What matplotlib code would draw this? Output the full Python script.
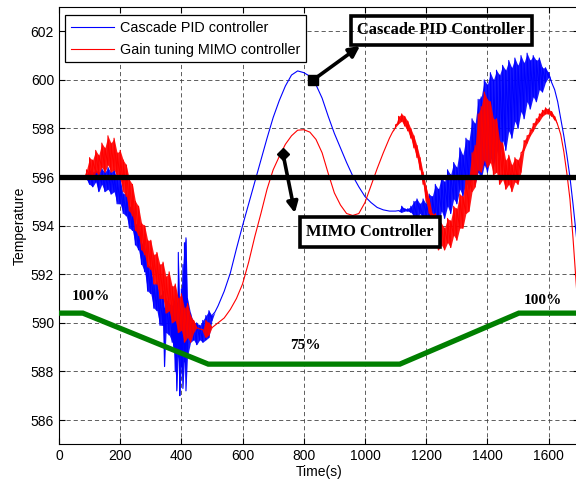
import numpy as np
import matplotlib
matplotlib.use("Agg")
import matplotlib.pyplot as plt

plt.rcParams['font.family'] = ['Liberation Sans', 'DejaVu Sans']

# ── Data ────────────────────────────────────────────
# smooth stretches: one value per time; noisy stretches: low/high of the band
pid_smooth_t = [0, 40, 80,
                510, 520, 540, 560, 580, 600, 620, 640, 660, 680, 700, 720, 740, 760, 780,
                800, 820, 840, 860, 880, 900, 920, 940, 960, 980, 1000, 1020, 1040, 1060,
                1080, 1100, 1110,
                1610, 1620, 1630, 1640, 1650, 1660, 1670, 1680, 1690, 1700]
pid_smooth_v = [596.0, 596.0, 596.02,
                590.45, 590.7, 591.3, 592.05, 593.05, 594.0, 594.9, 595.8, 596.7, 597.6, 598.45,
                599.15, 599.75, 600.2, 600.37,
                600.3, 600.15, 599.8, 599.25, 598.5, 597.8, 597.2, 596.6, 596.05, 595.6, 595.2,
                594.95, 594.75, 594.65,
                594.6, 594.6, 594.62,
                599.9, 599.6, 599.1, 598.4, 597.7, 596.9, 596.0, 594.9, 593.7, 592.5]

pid_band_t = [90, 100, 110, 120, 130, 140, 150, 160, 170, 180, 190, 200, 210, 220, 230, 240,
              250, 260, 270, 280, 290, 300, 310, 320, 330, 340, 345, 350, 360, 370, 375, 380,
              385, 390, 395, 400, 405, 410, 415, 420, 430, 440, 450, 460, 470, 480, 490, 500,
              1120, 1130, 1140, 1150, 1160, 1170, 1180, 1190, 1200,
              1210, 1220, 1230, 1240, 1250, 1260, 1270, 1280, 1290, 1300, 1310, 1320, 1330,
              1340, 1350, 1360, 1370, 1380, 1390, 1400, 1410, 1420, 1430, 1440, 1450, 1460,
              1470, 1480, 1490, 1500, 1510, 1520, 1530, 1540, 1550, 1560, 1570, 1580, 1590, 1600]
pid_band_lo = [595.9, 595.7, 595.6, 595.8, 595.4, 595.7, 595.4, 595.5, 595.3, 595.4, 594.9, 594.9,
               594.5, 594.4, 593.9, 593.8,
               593.2, 593.0, 592.4, 592.1, 591.3, 591.2, 590.6, 590.5, 589.9, 589.9, 588.2, 589.6,
               589.5, 589.2, 589.0, 588.0,
               587.2, 588.6, 587.0, 588.2, 587.3, 588.4, 587.2, 588.6, 589.2, 589.3, 589.1, 589.3,
               589.2, 589.3, 589.4, 590.1,
               594.55, 594.6, 594.6, 594.55, 594.4, 594.3, 594.5, 594.3, 594.4,
               594.4, 594.1, 594.3, 594.0, 594.6, 594.3, 594.8, 594.5, 595.1, 594.9, 595.5, 595.2,
               595.8, 595.5, 596.0, 595.7, 596.2, 595.9, 596.5, 596.2, 596.8, 596.4, 597.1, 596.7,
               597.5, 597.1, 597.9, 597.6, 598.3, 598.0, 598.7, 598.4, 599.1, 598.8, 599.3, 599.1,
               599.6, 599.5, 599.9, 600.1]
pid_band_hi = [596.1, 596.3, 596.2, 596.3, 596.2, 596.35, 596.2, 596.4, 596.2, 596.3, 595.9, 595.9,
               595.3, 595.4, 594.8, 594.8,
               594.1, 594.0, 593.3, 593.1, 592.4, 592.3, 591.6, 591.7, 591.1, 591.3, 590.6, 591.0,
               590.8, 590.7, 590.9, 591.5,
               590.8, 592.9, 590.6, 591.4, 592.4, 593.3, 593.5, 591.0, 590.4, 590.0, 590.0, 589.9,
               590.1, 590.3, 590.5, 590.3,
               594.8, 594.7, 594.7, 594.8, 595.0, 595.1, 594.9, 595.1, 594.9,
               595.3, 595.2, 595.7, 595.5, 596.0, 595.8, 596.3, 596.1, 596.6, 596.4, 597.2, 596.9,
               597.6, 597.5, 598.4, 598.2, 599.2, 599.3, 600.0, 599.8, 600.3, 600.0, 600.4, 600.2,
               600.6, 600.4, 600.8, 600.5, 600.9, 600.6, 601.0, 600.7, 601.1, 600.8, 601.0, 600.8,
               600.9, 600.5, 600.5, 600.3]

mimo_smooth_t = [80, 450, 460, 470, 500, 510, 520, 540, 560, 580, 600, 620, 640, 660, 680, 700,
                 720, 740, 760, 780, 800, 820, 840, 860, 880, 900, 920, 940, 960, 980, 1000,
                 1020, 1040, 1060, 1080, 1090,
                 1630, 1640, 1650, 1660, 1670, 1680, 1690, 1700]
mimo_smooth_v = [596.0, 589.8, 589.75, 589.72, 589.8, 589.9, 590.0, 590.2, 590.55, 591.0, 591.6,
                 592.5, 593.55, 594.5, 595.5, 596.3,
                 596.85, 597.35, 597.7, 597.93, 597.95, 597.85, 597.55, 597.0, 596.15, 595.35,
                 594.85, 594.5, 594.42, 594.5, 594.95,
                 595.65, 596.35, 597.0, 597.6, 597.85,
                 598.15, 597.75, 597.05, 596.15, 595.1, 593.5, 591.7, 589.9]

mimo_band_t = [90, 100, 110, 120, 130, 140, 150, 160, 170, 180, 190, 200, 210, 220, 230, 240,
               250, 260, 270, 280, 290, 300, 310, 320, 330, 340, 350, 360, 370, 380, 390, 400,
               410, 420, 430, 440, 480, 490,
               1100, 1110, 1120, 1130, 1140, 1150, 1160, 1170, 1180, 1190, 1200,
               1210, 1220, 1230, 1240, 1250, 1260, 1270, 1280, 1290, 1300, 1310, 1320, 1330,
               1340, 1350, 1360, 1370, 1380, 1390, 1400, 1410, 1420, 1430, 1440, 1450, 1460,
               1470, 1480, 1490, 1500, 1510, 1520, 1530, 1540, 1550, 1560, 1570, 1580, 1590,
               1600, 1610, 1620]
mimo_band_lo = [595.9, 596.1, 595.9, 596.2, 596.1, 596.4, 596.2, 596.5, 596.2, 596.3, 596.0, 595.9,
                595.4, 595.2, 594.6, 594.4,
                593.8, 593.6, 593.0, 592.8, 592.3, 592.2, 591.6, 591.6, 591.0, 591.0, 590.4, 590.5,
                590.0, 590.1, 589.6, 589.7,
                589.2, 589.4, 589.2, 589.6, 589.4, 589.5,
                598.05, 598.2, 598.3, 598.1, 597.9, 597.6, 597.2, 596.8, 596.3, 595.7, 595.0,
                594.5, 593.7, 593.5, 593.0, 593.2, 593.0, 593.3, 593.1, 593.6, 593.4, 593.9, 593.9,
                594.5, 594.6, 595.4, 595.6, 596.3, 596.2, 596.7, 596.4, 596.6, 596.1, 596.2, 595.7,
                595.9, 595.5, 595.7, 595.4, 595.8, 595.7, 596.2, 597.1, 597.4, 597.7, 597.9,
                598.15, 598.3, 598.5, 598.6, 598.6, 598.5, 598.35]
mimo_band_hi = [596.3, 596.8, 596.7, 597.1, 596.9, 597.4, 597.2, 597.7, 597.4, 597.6, 597.0, 597.1,
                596.7, 596.5, 595.9, 595.7,
                595.0, 594.8, 594.1, 594.0, 593.4, 593.4, 592.8, 592.9, 592.4, 592.5, 591.9, 592.1,
                591.5, 591.6, 591.0, 591.2,
                590.6, 590.8, 590.3, 590.1, 590.1, 590.0,
                598.15, 598.5, 598.6, 598.5, 598.3, 598.0, 597.7, 597.3, 596.8, 596.2, 595.6,
                595.1, 594.5, 594.5, 594.1, 594.1, 593.9, 594.3, 594.2, 594.8, 594.7, 595.3, 595.2,
                596.0, 596.0, 597.0, 597.3, 598.6, 598.9, 599.5, 599.2, 599.1, 598.4, 598.4, 597.5,
                597.4, 596.7, 596.9, 596.5, 596.8, 596.7, 597.0, 597.5, 597.7, 597.95, 598.2,
                598.4, 598.6, 598.75, 598.85, 598.8, 598.7, 598.5]

# loading profile (green) and setpoint
load_t = [0, 78, 488, 1114, 1503, 1700]
load_v = [590.4, 590.4, 588.3, 588.3, 590.4, 590.4]
load_labels = [(105, 591.1, '100%'), (804, 589.05, '75%'), (1582, 590.9, '100%')]
setpoint = 596.0


def trace(st, sv, bt, blo, bhi):
    assert len(st) == len(sv) and len(bt) == len(blo) == len(bhi)
    t = np.concatenate([st, bt]).astype(float)
    lo = np.concatenate([sv, blo])
    hi = np.concatenate([sv, bhi])
    order = np.argsort(t, kind='stable')
    t, lo, hi = t[order], lo[order], hi[order]
    x = np.repeat(t, 2)
    y = np.column_stack([lo, hi]).ravel()
    return t, lo, hi, x, y


pid = trace(pid_smooth_t, pid_smooth_v, pid_band_t, pid_band_lo, pid_band_hi)
mimo = trace(mimo_smooth_t, mimo_smooth_v, mimo_band_t, mimo_band_lo, mimo_band_hi)

# ── Figure ────────────────────────────────────────
fig = plt.figure(figsize=(5.76, 4.84), dpi=100)
ax = fig.add_axes([0.1024, 0.082, 0.903, 0.9035])

for (t, lo, hi, x, y), col, lab, z in [(pid, '#0000ff', 'Cascade PID controller', 2),
                                      (mimo, '#ff0000', 'Gain tuning MIMO controller', 3)]:
    ax.fill_between(t, lo, hi, color=col, lw=0, alpha=0.9, zorder=z)
    ax.plot(x, y, color=col, lw=0.8, label=lab, zorder=z)

ax.axhline(setpoint, color='k', lw=3.8, zorder=4)
ax.plot(load_t, load_v, color='#007f00', lw=3.8, solid_joinstyle='miter', zorder=4)

serif = dict(family=['Liberation Serif', 'DejaVu Serif'], weight='bold')
for x, y, s in load_labels:
    ax.text(x, y, s, ha='center', va='center', fontsize=11, zorder=6, **serif)

ax.set_xlim(0, 1700)
ax.set_ylim(585, 603)
ax.set_xticks(range(0, 1601, 200))
ax.set_yticks(range(586, 603, 2))
ax.tick_params(direction='in', top=True, right=True, length=4, width=0.8, labelsize=10)
ax.grid(True, color='#444444', lw=0.6, linestyle=(0, (5, 3.5)))
ax.set_axisbelow(True)
for sp in ax.spines.values():
    sp.set_linewidth(0.8)

ax.set_xlabel('Time(s)', fontsize=10, labelpad=1)
ax.set_ylabel('Temperature', fontsize=10, labelpad=3)

leg = ax.legend(loc='upper left', bbox_to_anchor=(0.0115, 0.982), borderaxespad=0,
                fontsize=10.4, fancybox=False, edgecolor='k', framealpha=1,
                handlelength=3.0, handletextpad=0.4, labelspacing=0.55, borderpad=0.4)
leg.get_frame().set_linewidth(0.9)
leg.set_zorder(7)

# annotation boxes and arrows
ax.text(1250, 602.05, 'Cascade PID Controller', ha='center', va='center', fontsize=11.8,
        zorder=8, bbox=dict(boxstyle='square,pad=0.4', facecolor='none', edgecolor='k', lw=2.6),
        **serif)
ax.text(1016, 593.74, 'MIMO Controller', ha='center', va='center', fontsize=11.8,
        zorder=8, bbox=dict(boxstyle='square,pad=0.4', facecolor='white', edgecolor='k', lw=2.6),
        **serif)

ax.annotate('', xy=(984, 601.4), xytext=(831, 600.0), zorder=9,
            arrowprops=dict(arrowstyle='-|>', lw=2.6, color='k', mutation_scale=16,
                            shrinkA=0, shrinkB=0))
ax.plot([831], [600.0], marker='s', ms=7, color='k', zorder=9)
ax.annotate('', xy=(771, 594.52), xytext=(732, 596.97), zorder=9,
            arrowprops=dict(arrowstyle='-|>', lw=2.6, color='k', mutation_scale=16,
                            shrinkA=0, shrinkB=0))
ax.plot([732], [596.97], marker='D', ms=6.5, color='k', zorder=9)

fig.savefig('out.png', dpi=100)
